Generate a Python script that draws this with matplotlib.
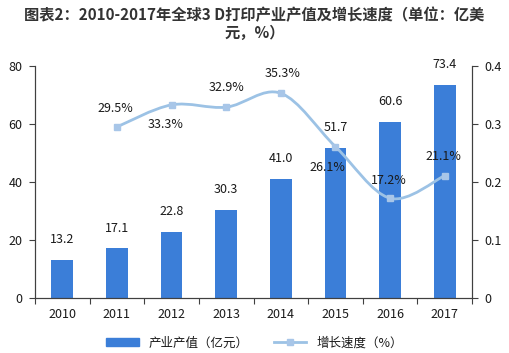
import numpy as np
import matplotlib.pyplot as plt
from matplotlib.path import Path
from matplotlib.patches import PathPatch

plt.rcParams['font.family'] = ['Noto Sans CJK SC', 'DejaVu Sans']

years = ['2010', '2011', '2012', '2013', '2014', '2015', '2016', '2017']
output_value = [13.2, 17.1, 22.8, 30.3, 41.0, 51.7, 60.6, 73.4]   # 亿元
growth_years = ['2011', '2012', '2013', '2014', '2015', '2016', '2017']
growth_rate = [0.295, 0.333, 0.329, 0.353, 0.261, 0.172, 0.211]
growth_labels = ['29.5%', '33.3%', '32.9%', '35.3%', '26.1%', '17.2%', '21.1%']
# label offsets (points) for growth labels: above or below marker
growth_offsets = [(-1, 13), (-4, -14), (0, 14), (1, 14), (-6, -15), (-1, 13), (-1, 14)]

bar_color = '#3b7ed8'
line_color = '#9cc2e5'
marker_color = '#a8c6e8'
axis_color = '#404040'
text_color = '#1a1a1a'
fs = 9

fig = plt.figure(figsize=(5.09, 3.53), dpi=100)
ax = fig.add_axes([35/509, 1 - 298/353, (472 - 35)/509, (298 - 66)/353])
ax2 = ax.twinx()

x = np.arange(len(years))
ax.bar(x, output_value, width=0.4, color=bar_color, zorder=2)
for xi, v in zip(x, output_value):
    ax.annotate(f'{v:.1f}', (xi, v), xytext=(0, 10), textcoords='offset points',
                ha='center', va='bottom', fontsize=fs, color=text_color)

ax.set_xlim(-0.5, len(years) - 0.5)
ax.set_ylim(0, 80)
ax.set_yticks([0, 20, 40, 60, 80])
ax.set_xticks(np.arange(-0.5, len(years), 1.0))
ax.set_xticklabels([])
ax.set_xticks(x, minor=True)
ax.set_xticklabels(years, minor=True)
ax.tick_params(axis='x', which='major', length=4, direction='out', color=axis_color)
ax.tick_params(axis='x', which='minor', length=0, pad=7, labelsize=fs, labelcolor=text_color)
ax.tick_params(axis='y', length=4, direction='out', color=axis_color, labelsize=fs,
               labelcolor=text_color, pad=5)

# growth line, smoothed with cubic bezier segments
gx = np.array([years.index(y) for y in growth_years], dtype=float)
gy = np.array(growth_rate)
pts = np.column_stack([gx, gy])
verts = [pts[0]]
codes = [Path.MOVETO]
n = len(pts)
for i in range(n - 1):
    p0 = pts[max(i - 1, 0)]
    p1 = pts[i]
    p2 = pts[i + 1]
    p3 = pts[min(i + 2, n - 1)]
    c1 = p1 + (p2 - p0) / 6
    c2 = p2 - (p3 - p1) / 6
    verts += [c1, c2, p2]
    codes += [Path.CURVE4] * 3
ax2.add_patch(PathPatch(Path(verts, codes), facecolor='none', edgecolor=line_color,
                        lw=2, zorder=3))
ax2.plot(gx, gy, linestyle='none', marker='s', markersize=5, color=marker_color, zorder=4)
for xi, v, lab, off in zip(gx, gy, growth_labels, growth_offsets):
    ax2.annotate(lab, (xi, v), xytext=off, textcoords='offset points',
                 ha='center', va='center', fontsize=fs, color=text_color, zorder=5)

ax2.set_ylim(0, 0.4)
ax2.set_yticks([0, 0.1, 0.2, 0.3, 0.4])
ax2.set_yticklabels(['0', '0.1', '0.2', '0.3', '0.4'])
ax2.tick_params(axis='y', length=4, direction='out', color=axis_color, labelsize=fs,
                labelcolor=text_color, pad=5)

for a in (ax, ax2):
    a.spines['top'].set_visible(False)
    for s in ('left', 'right', 'bottom'):
        a.spines[s].set_color(axis_color)
        a.spines[s].set_linewidth(0.8)

fig.text(0.5, 1 - 15/353, '图表2：2010-2017年全球3 D打印产业产值及增长速度（单位：亿美',
         ha='center', va='center', fontsize=11, fontweight='bold', color='#333333')
fig.text(0.5, 1 - 33/353, '元，%）',
         ha='center', va='center', fontsize=11, fontweight='bold', color='#333333')

h1 = plt.Rectangle((0, 0), 1, 1, color=bar_color)
h2 = plt.Line2D([], [], color=line_color, lw=2, marker='s', markersize=4,
                markerfacecolor=marker_color, markeredgecolor=marker_color)
fig.legend([h1, h2], ['产业产值（亿元）', '增长速度（%）'], loc='center',
           bbox_to_anchor=(0.5, 1 - 343/353), ncol=2, frameon=False, fontsize=fs,
           handlelength=2.6, handleheight=0.6, columnspacing=2.0, labelcolor=text_color)

fig.savefig('out.png', dpi=100, facecolor='white')
